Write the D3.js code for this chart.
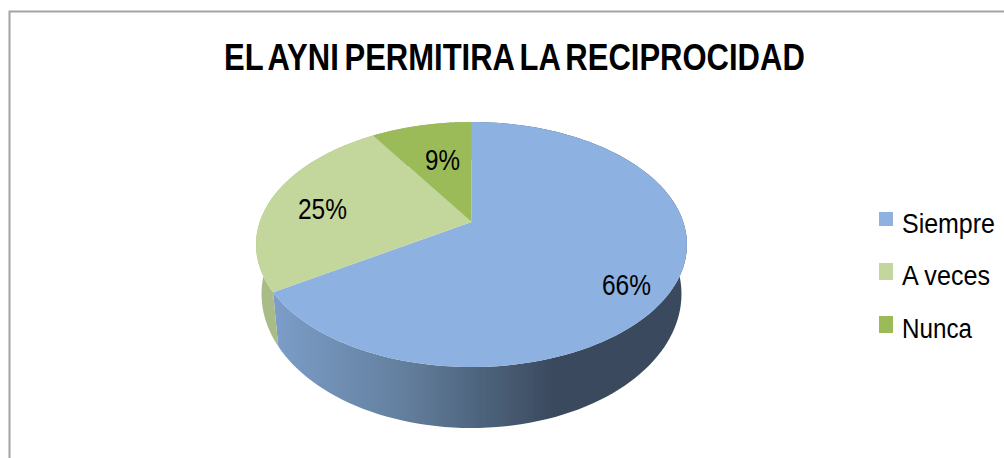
<!DOCTYPE html>
<html><head><meta charset="utf-8">
<script src="https://cdnjs.cloudflare.com/ajax/libs/d3/7.8.5/d3.min.js"></script>
<style>html,body{margin:0;padding:0;background:#fff;overflow:hidden}svg{display:block}text{font-family:"Liberation Sans",Arial,sans-serif;fill:#000}</style>
</head><body><svg id="c" width="1004" height="458"></svg>
<script>
const titleText = "EL AYNI PERMITIRA LA RECIPROCIDAD";
const categories = ["Siempre", "A veces", "Nunca"];
const values = [66, 25, 9];
const labels = ["66%", "25%", "9%"];
const topColors = ["#8DB1E1", "#C3D69B", "#9BBB59"];

const svg = d3.select("#c");
svg.append("path").attr("d", "M1004,11.5H9.5V458").attr("fill", "none").attr("stroke", "#a3a3a3").attr("stroke-width", 2);

// perspective projection of a unit disc: apex sits above the ellipse centre
const C = {x: 471.5, y: 222, d: 211.8, a: 77.6, c: -0.1837};
const topE = {cy: 244.5, rx: 215.5, ry: 122.5};
const botE = {cy: 294, rx: 210, ry: 134};
const projectTop = (angle, r) => {
  const u = Math.sin(angle) * r, v = -Math.cos(angle) * r;
  const w = 1 + C.c * v;
  return [C.x + C.d * u / w, (C.a * v + C.y) / w];
};
const projectBottom = angle => {
  const p = projectTop(angle, 1);
  return [C.x + botE.rx * (p[0] - C.x) / topE.rx, botE.cy + botE.ry * (p[1] - topE.cy) / topE.ry];
};
const pie = d3.pie().value(d => d).sort(null);
const arcs = pie(values);
const line = d3.line();
const steps = (a, b, n = 120) => d3.range(n + 1).map(i => a + (b - a) * i / n);

const defs = svg.append("defs");
const f = defs.append("filter").attr("id", "soft");
f.append("feGaussianBlur").attr("stdDeviation", 0.5);
const shade = d3.scaleLinear().domain([275, 400, 553, 700])
  .range(["#7b9dc8", "#64809f", "#3a4a5e", "#3a4a5e"]);
const grad = defs.append("linearGradient").attr("id", "side").attr("gradientUnits", "userSpaceOnUse")
  .attr("x1", 275).attr("x2", 700).attr("y1", 0).attr("y2", 0);
shade.domain().forEach(x => grad.append("stop").attr("offset", (x - 275) / 425).attr("stop-color", shade(x)));

const sideFill = ["url(#side)", "#a9bc88", "#a9bc88"];
const pieG = svg.append("g").attr("filter", "url(#soft)");
arcs.forEach((d, i) => {
  const aa = steps(d.startAngle, d.endAngle);
  const pts = aa.map(a => projectTop(a, 1)).concat(aa.slice().reverse().map(projectBottom));
  pieG.append("path").attr("d", line(pts) + "Z").attr("fill", sideFill[i]);
});
arcs.forEach((d, i) => {
  const pts = [projectTop(0, 0)].concat(steps(d.startAngle, d.endAngle).map(a => projectTop(a, 1)));
  pieG.append("path").attr("d", line(pts) + "Z").attr("fill", topColors[i]);
});

const stretched = (x, y, txt, size, len, weight, wordSpacing) => {
  const t = svg.append("text")
    .attr("font-size", size).attr("font-weight", weight || 400)
    .attr("word-spacing", wordSpacing || 0).text(txt);
  const natural = t.node().getComputedTextLength();
  t.attr("transform", `translate(${x},${y}) scale(${len / natural},1)`);
  return t;
};

stretched(224, 69.5, titleText, 37, 581, 700, -3.5);

const labelAt = [[602, 295, 49], [298, 219, 49], [425, 170, 35]];
labels.forEach((t, i) => stretched(labelAt[i][0], labelAt[i][1], t, 29, labelAt[i][2]));

const legendRows = [[212, 14, 233, 93], [263, 17, 285, 88], [316, 17, 338, 70]];
categories.forEach((t, i) => {
  const r = legendRows[i];
  svg.append("rect").attr("x", 879).attr("y", r[0]).attr("width", 14).attr("height", r[1]).attr("fill", topColors[i]);
  stretched(902, r[2], t, 28, r[3]);
});
</script></body></html>
